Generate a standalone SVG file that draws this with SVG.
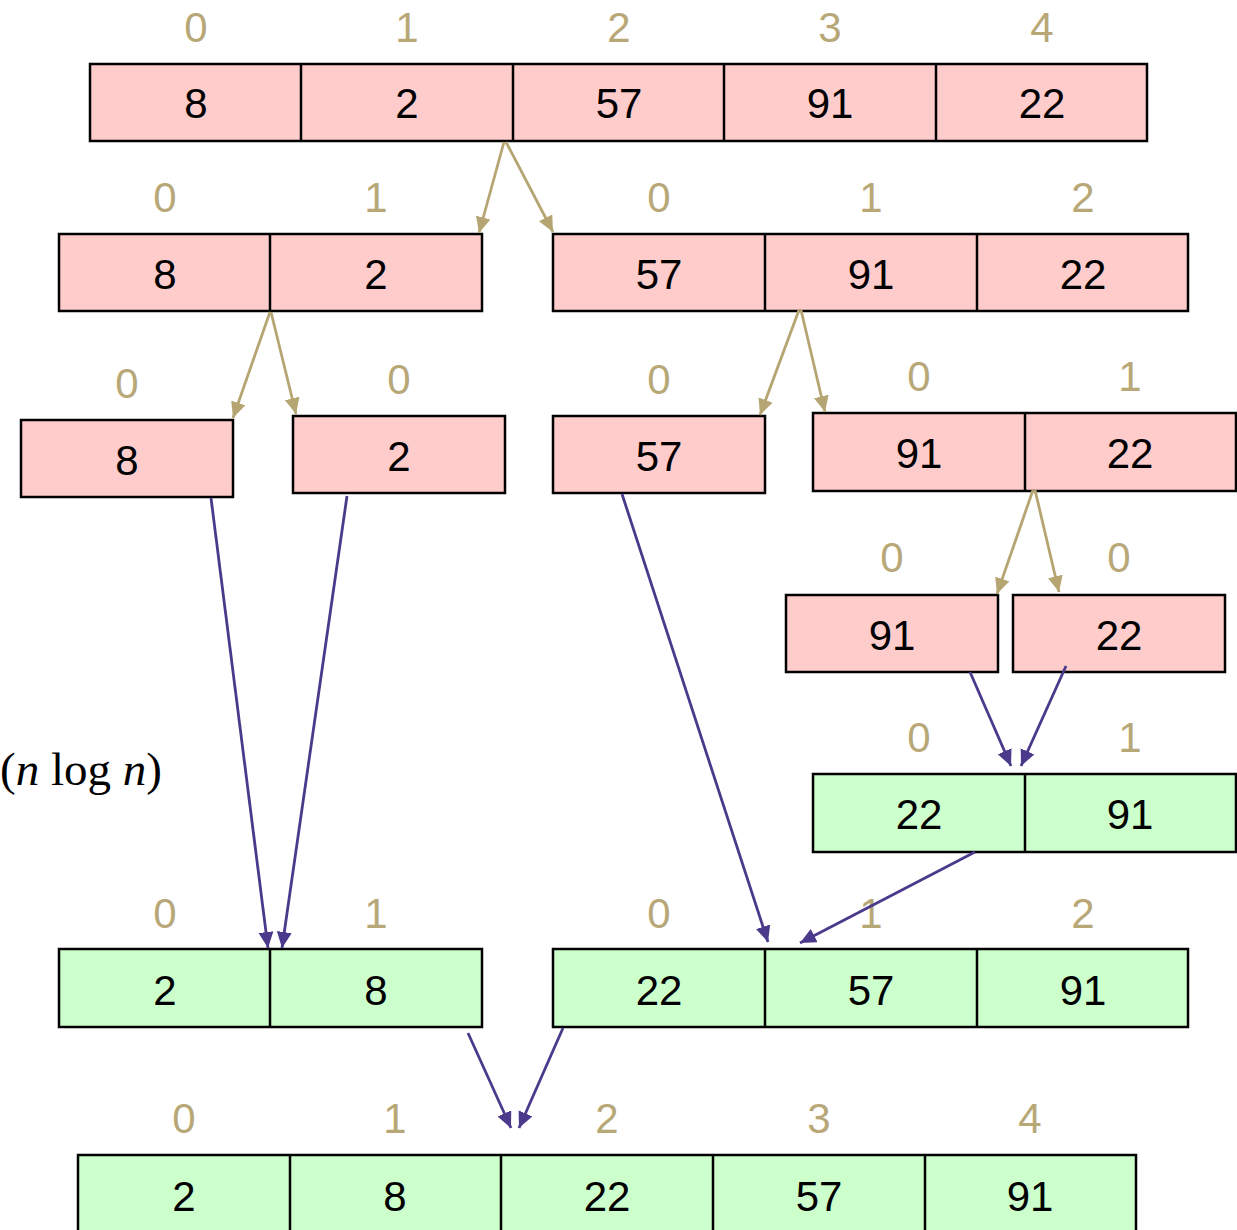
<svg xmlns="http://www.w3.org/2000/svg" width="1237" height="1230" viewBox="0 0 1237 1230">
<style>
.pk{fill:#ffcccc;stroke:#000;stroke-width:2.5}
.gr{fill:#ccffcc;stroke:#000;stroke-width:2.5}
.dv{stroke:#000;stroke-width:2.5}
.v{font-family:"Liberation Sans",Arial,sans-serif;font-size:42px;fill:#000;text-anchor:middle}
.i{font-family:"Liberation Sans",Arial,sans-serif;font-size:42px;fill:#b8a878;text-anchor:middle}
.ta{stroke:#b5a573;stroke-width:2.8;fill:none;marker-end:url(#ah1)}
.pa{stroke:#4b3a8c;stroke-width:2.8;fill:none;marker-end:url(#ah2)}
</style>
<defs>
<marker id="ah1" markerUnits="userSpaceOnUse" markerWidth="18" markerHeight="16" refX="16" refY="7.5" orient="auto"><path d="M0,0 L16,7.5 L0,15 z" fill="#b5a573"/></marker>
<marker id="ah2" markerUnits="userSpaceOnUse" markerWidth="18" markerHeight="16" refX="16" refY="7.5" orient="auto"><path d="M0,0 L16,7.5 L0,15 z" fill="#4b3a8c"/></marker>
</defs>
<rect width="1237" height="1230" fill="#fff"/>

<g id="row1">
<rect class="pk" x="90" y="64" width="1057" height="77"/>
<line class="dv" x1="301" y1="64" x2="301" y2="141"/><line class="dv" x1="513" y1="64" x2="513" y2="141"/><line class="dv" x1="724" y1="64" x2="724" y2="141"/><line class="dv" x1="936" y1="64" x2="936" y2="141"/>
<text class="i" x="196" y="42">0</text><text class="i" x="407" y="42">1</text><text class="i" x="619" y="42">2</text><text class="i" x="830" y="42">3</text><text class="i" x="1042" y="42">4</text>
<text class="v" x="196" y="118">8</text><text class="v" x="407" y="118">2</text><text class="v" x="619" y="118">57</text><text class="v" x="830" y="118">91</text><text class="v" x="1042" y="118">22</text>
</g>

<g id="row2-left">
<rect class="pk" x="59" y="234" width="423" height="77"/>
<line class="dv" x1="270" y1="234" x2="270" y2="311"/>
<text class="i" x="165" y="212">0</text><text class="i" x="376" y="212">1</text>
<text class="v" x="165" y="289">8</text><text class="v" x="376" y="289">2</text>
</g>
<g id="row2-right">
<rect class="pk" x="553" y="234" width="635" height="77"/>
<line class="dv" x1="765" y1="234" x2="765" y2="311"/><line class="dv" x1="977" y1="234" x2="977" y2="311"/>
<text class="i" x="659" y="212">0</text><text class="i" x="871" y="212">1</text><text class="i" x="1083" y="212">2</text>
<text class="v" x="659" y="289">57</text><text class="v" x="871" y="289">91</text><text class="v" x="1083" y="289">22</text>
</g>

<g id="row3-8">
<rect class="pk" x="21" y="420" width="212" height="77"/>
<text class="i" x="127" y="398">0</text><text class="v" x="127" y="475">8</text>
</g>
<g id="row3-2">
<rect class="pk" x="293" y="416" width="212" height="77"/>
<text class="i" x="399" y="394">0</text><text class="v" x="399" y="471">2</text>
</g>
<g id="row3-57">
<rect class="pk" x="553" y="416" width="212" height="77"/>
<text class="i" x="659" y="394">0</text><text class="v" x="659" y="471">57</text>
</g>
<g id="row3-91-22">
<rect class="pk" x="813" y="413" width="423" height="78"/>
<line class="dv" x1="1025" y1="413" x2="1025" y2="491"/>
<text class="i" x="919" y="391">0</text><text class="i" x="1130" y="391">1</text>
<text class="v" x="919" y="468">91</text><text class="v" x="1130" y="468">22</text>
</g>

<g id="row4-91">
<rect class="pk" x="786" y="595" width="212" height="77"/>
<text class="i" x="892" y="572">0</text><text class="v" x="892" y="650">91</text>
</g>
<g id="row4-22">
<rect class="pk" x="1013" y="595" width="212" height="77"/>
<text class="i" x="1119" y="572">0</text><text class="v" x="1119" y="650">22</text>
</g>

<g id="row5-22-91">
<rect class="gr" x="813" y="774" width="423" height="78"/>
<line class="dv" x1="1025" y1="774" x2="1025" y2="852"/>
<text class="i" x="919" y="752">0</text><text class="i" x="1130" y="752">1</text>
<text class="v" x="919" y="829">22</text><text class="v" x="1130" y="829">91</text>
</g>

<g id="row6-left">
<rect class="gr" x="59" y="949" width="423" height="78"/>
<line class="dv" x1="270" y1="949" x2="270" y2="1027"/>
<text class="i" x="165" y="928">0</text><text class="i" x="376" y="928">1</text>
<text class="v" x="165" y="1005">2</text><text class="v" x="376" y="1005">8</text>
</g>
<g id="row6-right">
<rect class="gr" x="553" y="949" width="635" height="78"/>
<line class="dv" x1="765" y1="949" x2="765" y2="1027"/><line class="dv" x1="977" y1="949" x2="977" y2="1027"/>
<text class="i" x="659" y="928">0</text><text class="i" x="871" y="928">1</text><text class="i" x="1083" y="928">2</text>
<text class="v" x="659" y="1005">22</text><text class="v" x="871" y="1005">57</text><text class="v" x="1083" y="1005">91</text>
</g>

<g id="row7">
<rect class="gr" x="78" y="1155" width="1058" height="80"/>
<line class="dv" x1="290" y1="1155" x2="290" y2="1235"/><line class="dv" x1="501" y1="1155" x2="501" y2="1235"/><line class="dv" x1="713" y1="1155" x2="713" y2="1235"/><line class="dv" x1="925" y1="1155" x2="925" y2="1235"/>
<text class="i" x="184" y="1133">0</text><text class="i" x="395" y="1133">1</text><text class="i" x="607" y="1133">2</text><text class="i" x="819" y="1133">3</text><text class="i" x="1030" y="1133">4</text>
<text class="v" x="184" y="1211">2</text><text class="v" x="395" y="1211">8</text><text class="v" x="607" y="1211">22</text><text class="v" x="819" y="1211">57</text><text class="v" x="1030" y="1211">91</text>
</g>

<g id="complexity">
<text x="0" y="785" font-family="Liberation Serif,'Times New Roman',serif" font-size="47" fill="#000">(<tspan font-style="italic">n</tspan> log <tspan font-style="italic">n</tspan>)</text>
</g>

<g id="connectors">
<line class="ta" x1="504" y1="142" x2="479" y2="233"/>
<line class="ta" x1="506" y1="142" x2="553" y2="232"/>
<line class="ta" x1="270" y1="312" x2="233" y2="418"/>
<line class="ta" x1="271" y1="312" x2="296" y2="414"/>
<line class="ta" x1="799" y1="310" x2="760" y2="415"/>
<line class="ta" x1="801" y1="310" x2="825" y2="412"/>
<line class="ta" x1="1033" y1="490" x2="997" y2="594"/>
<line class="ta" x1="1035" y1="490" x2="1059" y2="592"/>
<line class="pa" x1="211" y1="498" x2="268" y2="948"/>
<line class="pa" x1="347" y1="496" x2="282" y2="948"/>
<line class="pa" x1="622" y1="494" x2="768" y2="942"/>
<line class="pa" x1="970" y1="672" x2="1011" y2="766"/>
<line class="pa" x1="1066" y1="666" x2="1021" y2="766"/>
<line class="pa" x1="975" y1="852" x2="800" y2="943"/>
<line class="pa" x1="468" y1="1033" x2="511" y2="1128"/>
<line class="pa" x1="563" y1="1028" x2="519" y2="1128"/>
</g>
</svg>
